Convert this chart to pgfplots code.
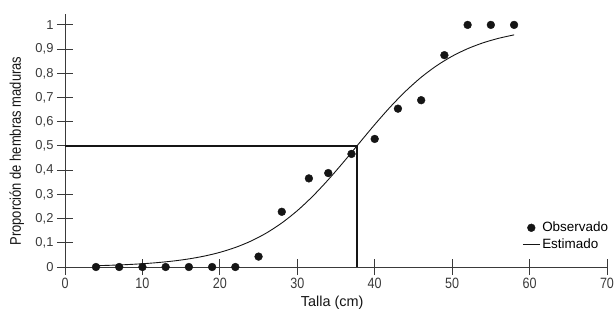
\documentclass[border=0pt]{standalone}
\usepackage{pgfplots}
\pgfplotsset{compat=1.18}
\usepackage{fontspec}
\setmainfont{Liberation Sans}
\newfontfamily\condf[FakeStretch=0.84]{Liberation Sans}
\definecolor{ink}{HTML}{151515}
\definecolor{axc}{HTML}{3A3A3A}
\begin{document}
\begin{tikzpicture}
\path[use as bounding box] (-65bp,-46bp) rectangle (551bp,267bp);
\begin{axis}[
  at={(0,0)}, anchor=south west,
  scale only axis, width=542bp, height=253bp,
  xmin=0, xmax=70, ymin=0, ymax=1.045,
  axis x line=bottom, axis y line=left,
  axis line style={-, axc, line width=1pt},
  xtick={0,10,...,70},
  ytick={0,0.1,0.2,0.3,0.4,0.5,0.6,0.7,0.8,0.9,1},
  yticklabels={0,{0,1},{0,2},{0,3},{0,4},{0,5},{0,6},{0,7},{0,8},{0,9},1},
  tick align=center, major tick length=16bp,
  tick style={axc, line width=0.9pt},
  /pgf/number format/assume math mode=true,
  yticklabel style={font=\fontsize{13}{15}\selectfont, text=axc},
  xticklabel style={font=\condf\fontsize{15}{17}\selectfont, text=axc},
  label style={font=\fontsize{14.5}{16}\selectfont, text=ink},
  xlabel={Talla (cm)},
  ylabel={Proporción de hembras maduras},
  xlabel style={at={(axis description cs:0.493,-0.142)}, anchor=center},
  ylabel style={font=\condf\fontsize{15.5}{17}\selectfont, at={(axis description cs:-0.089,0.458)}, anchor=center},
  legend style={draw=none, fill=none, at={(axis description cs:1.006,0.06)}, anchor=south east,
    font=\fontsize{13.5}{15}\selectfont, row sep=1bp, inner sep=0pt},
  legend cell align=left,
  clip=false,
]
\addplot[ink, line width=1.2pt, forget plot] coordinates {(0,0.5) (37.7,0.5) (37.7,0)};
\addplot[only marks, mark=*, mark size=3.9bp, ink] coordinates {
(4,0) (7,0) (10,0) (13,0) (16,0) (19,0) (22,0) (25,0.043) (28,0.228) (31.5,0.366)
(34,0.388) (37,0.467) (40,0.529) (43,0.654) (46,0.689) (49,0.875) (52,1) (55,1) (58,1)};
\addlegendentry{Observado}
\addplot[ink, line width=0.9pt, smooth] coordinates {
(4,0.0054) (6,0.0073) (8,0.0099) (10,0.0135) (12,0.0183) (14,0.0248) (16,0.0335) (18,0.0451)
(20,0.0605) (22,0.0807) (24,0.1068) (26,0.1402) (28,0.1819) (30,0.2326) (32,0.2925)
(34,0.3605) (36,0.4345) (37.7,0.5) (40,0.5882) (42,0.6607) (44,0.7264) (46,0.7836)
(48,0.8315) (50,0.8706) (52,0.9017) (54,0.9260) (56,0.9446) (58,0.9588)};
\addlegendentry{Estimado}
\end{axis}
\end{tikzpicture}
\end{document}
